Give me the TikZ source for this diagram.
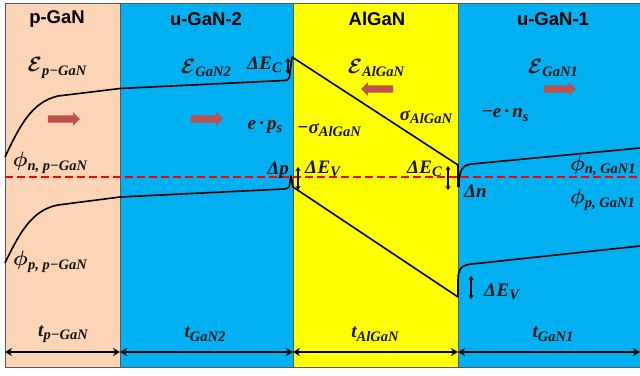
\documentclass[tikz,border=0pt]{standalone}
\usepackage{amsmath,amssymb}
\usepackage{fontspec}
\setsansfont{Liberation Sans}
\newfontfamily\lblfont{Liberation Serif}
\usepackage{tikz}
\usetikzlibrary{positioning,arrows.meta,shapes.arrows}

\definecolor{peach}{HTML}{FBD5B5}
\definecolor{gancyan}{HTML}{00B0F0}
\definecolor{alyellow}{HTML}{FFFF00}
\definecolor{fieldred}{HTML}{C0504D}
\definecolor{fermired}{HTML}{FF0000}
\definecolor{ink}{HTML}{141414}

% symbol with subscript
\newcommand{\bandlbl}[2]{#1\raisebox{-0.4ex}{\fontsize{14.5}{16}\selectfont#2}}
\newcommand{\fieldE}{{\fontsize{21}{24}\selectfont\boldmath$\mathcal{E}$}}
\newcommand{\qphi}{{\fontsize{21}{24}\selectfont\boldmath$\phi$}}

\begin{document}
\begin{tikzpicture}[x=1pt,y=-1pt,>=Stealth,
	layer/.style={font=\sffamily\bfseries\fontsize{18.5}{22}\selectfont},
	lbl/.style={font=\lblfont\bfseries\itshape\fontsize{19}{22}\selectfont,text=ink,inner sep=1pt},
	band/.style={line width=1.6pt,line join=round},
	fieldarrow/.style={single arrow,fill=fieldred,draw=none,minimum height=32pt,
		minimum width=13pt,single arrow head extend=3pt,inner sep=3.5pt},
	dimarrow/.style={{Stealth[length=7pt,width=8pt]}-{Stealth[length=7pt,width=8pt]},line width=1.5pt},
	gaparrow/.style={{Stealth[length=4pt,width=5pt]}-{Stealth[length=4pt,width=5pt]},line width=1.3pt}]
		
		\useasboundingbox (0,0) rectangle (640,375);
		
		% Layers
		\fill[peach] (5,3) rectangle (120,367);
		\fill[gancyan] (120,3) rectangle (293,367);
		\fill[alyellow] (293,3) rectangle (458,367);
		\fill[gancyan] (458,3) rectangle (640,367);
		\draw[gray!70!black,line width=0.6pt]
		(640,3)--(5,3)--(5,367)--(640,367)
		(120,3)--(120,367) (293,3)--(293,367) (458,3)--(458,367);
		
		\node[layer] (pgan) at (57,19){p-GaN};
		\node[layer] (ugan2) at (206,19){u-GaN-2};
		\node[layer] (algan) at (377,19){AlGaN};
		\node[layer] (ugan1) at (553,19){u-GaN-1};
		
		% Fermi level
		\draw[draw=fermired,dash pattern=on 8pt off 4pt,line width=1.2pt] (5,177)--(640,177);
		
		% Conduction band
		\draw[band]
		(5,157) .. controls (20,125) and (32,102) .. (58,96)
		-- (120,88.5) -- (284,80.5)
		.. controls (289,80.5) and (290,78) .. (290,72)
		-- (292,57) -- (458,165) -- (458,187);
		\draw[band]
		(459,187) .. controls (459,170) and (462,165) .. (472,164) -- (640,148);
		
		% Valence band
		\draw[band]
		(5,263) .. controls (20,232) and (32,210) .. (58,205)
		-- (120,197) -- (284,189)
		.. controls (289,189) and (290,186) .. (290,182)
		-- (291,176) -- (293,187) -- (458,297) -- (458,280)
		.. controls (458,268) and (462,265) .. (472,264) -- (640,246);
		
		% Fields
		\node[lbl] (Epgan) at (57,68){\bandlbl{\fieldE}{p−GaN}};
		\node[lbl] (Egan2) at (206,68){\bandlbl{\fieldE}{GaN2}};
		\node[lbl] (Ealgan) at (376,68){\bandlbl{\fieldE}{AlGaN}};
		\node[lbl] (Egan1) at (553,68){\bandlbl{\fieldE}{GaN1}};
		
		\node[fieldarrow] (fpgan) at (62,119){};
		\node[fieldarrow] (fgan2) at (205,119){};
		\node[fieldarrow,shape border rotate=180] (falgan) at (379,89){};
		\node[fieldarrow] (fgan1) at (558,89){};
		
		% Charges
		\node[lbl] (eps) at (265,127){e\,·\,\bandlbl{p}{s}};
		\node[lbl] (msig) at (329,130){−\bandlbl{σ}{AlGaN}};
		\node[lbl] (sig) at (426,117){\bandlbl{σ}{AlGaN}};
		\node[lbl] (ens) at (505,115){−e\,·\,\bandlbl{n}{s}};
		
		% Quasi Fermi levels
		\node[lbl] (phinp) at (50,163){\bandlbl{\qphi}{n, p−GaN}};
		\node[lbl] (phipp) at (50,262){\bandlbl{\qphi}{p, p−GaN}};
		\node[lbl,anchor=west] (phin1) at (569,166){\bandlbl{\qphi}{n, GaN1}};
		\node[lbl,anchor=west] (phip1) at (569,200){\bandlbl{\qphi}{p, GaN1}};
		
		% Offsets
		\node[lbl,anchor=east] (dec2) at (283,65){\bandlbl{Δ\kern0.5pt E}{C}};
		\coordinate (dec2t) at (288,58);
		\coordinate (dec2b) at (288,74);
		\draw[gaparrow] (dec2t)--(dec2b);
		
		\node[lbl,anchor=east] (dp) at (290,170){Δp};
		\node[lbl,anchor=west] (dev2) at (304,169){\bandlbl{Δ\kern0.5pt E}{V}};
		\coordinate (dev2t) at (298,167);
		\coordinate (dev2b) at (298,190);
		\draw[gaparrow] (dev2t)--(dev2b);
		
		\node[lbl,anchor=east] (dec1) at (443,169){\bandlbl{Δ\kern0.5pt E}{C}};
		\coordinate (dec1t) at (448,166);
		\coordinate (dec1b) at (448,190);
		\draw[gaparrow] (dec1t)--(dec1b);
		\node[lbl,anchor=west] (dn) at (463,191){Δn};
		
		\node[lbl,anchor=west] (dev1) at (483,292){\bandlbl{Δ\kern0.5pt E}{V}};
		\coordinate (dev1t) at (471,276);
		\coordinate (dev1b) at (471,299);
		\draw[gaparrow] (dev1t)--(dev1b);
		
		% Thicknesses
		\node[lbl] (tpgan) at (63,334){\bandlbl{t}{p−GaN}};
		\node[lbl] (tgan2) at (205,334){\bandlbl{t}{GaN2}};
		\node[lbl] (talgan) at (375,334){\bandlbl{t}{AlGaN}};
		\node[lbl] (tgan1) at (553,334){\bandlbl{t}{GaN1}};
		
		\coordinate (d0) at (5,352);
		\coordinate (d1) at (120,352);
		\coordinate (d2) at (293,352);
		\coordinate (d3) at (458,352);
		\coordinate (d4) at (640,352);
		\draw[dimarrow] (d0)--(d1);
		\draw[dimarrow] (d1)--(d2);
		\draw[dimarrow] (d2)--(d3);
		\draw[dimarrow] (d3)--(d4);
		
	\end{tikzpicture}
\end{document}
